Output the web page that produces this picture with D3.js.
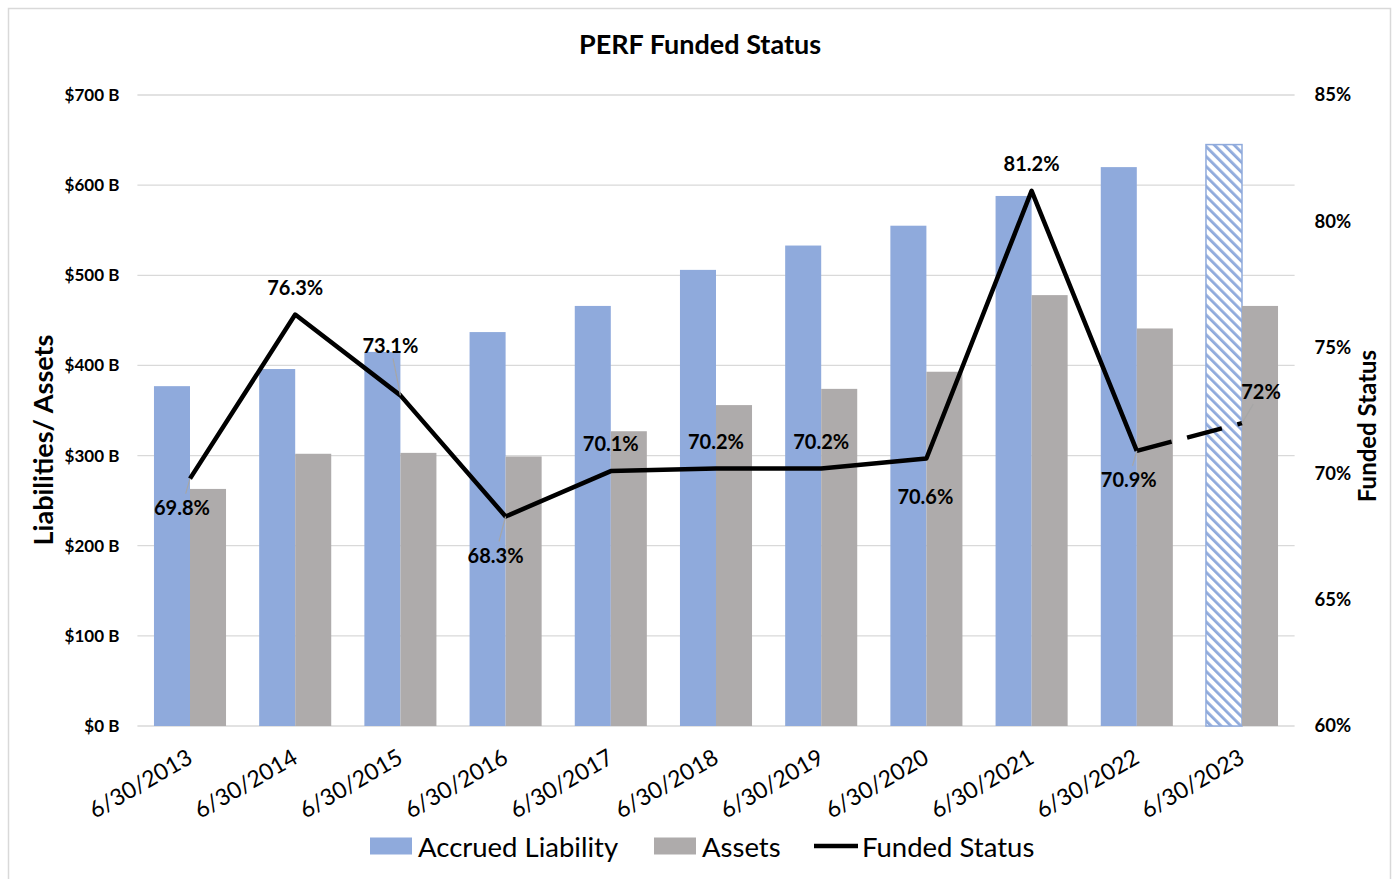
<!DOCTYPE html>
<html><head><meta charset="utf-8">
<script src="https://cdn.jsdelivr.net/npm/d3@7/dist/d3.min.js"></script>
<style>
body{margin:0;background:#fff}
svg text{font-family:Lato,"Noto Sans",sans-serif;fill:#000}
</style>
</head><body>
<svg id="chart" width="1397" height="879"></svg>
<script>
// ---- data ----
const categories = ['6/30/2013','6/30/2014','6/30/2015','6/30/2016','6/30/2017','6/30/2018','6/30/2019','6/30/2020','6/30/2021','6/30/2022','6/30/2023'];
const accruedLiability = [377,396,415,437,466,506,533,555,588,620,645];
const assets = [263,302,303,299,327,356,374,393,478,441,466];
const fundedStatus = [69.8,76.3,73.1,68.3,70.1,70.2,70.2,70.6,81.2,70.9,72.0];
const fundedLabels = ['69.8%','76.3%','73.1%','68.3%','70.1%','70.2%','70.2%','70.6%','81.2%','70.9%','72%'];
const projected = [false,false,false,false,false,false,false,false,false,false,true];
const labelPlacement = ['belowLeftNear','above','aboveLeft','belowLeft','above','above','above','below','above','belowLeftNear','aboveRight'];
const leftTicks = [0,100,200,300,400,500,600,700];
const leftTickLabels = ['$0 B','$100 B','$200 B','$300 B','$400 B','$500 B','$600 B','$700 B'];
const rightTicks = [60,65,70,75,80,85];
const rightTickLabels = ['60%','65%','70%','75%','80%','85%'];
const seriesNames = ['Accrued Liability','Assets','Funded Status'];

// ---- layout ----
const W = 1397, H = 879;
const plot = {left:137.4, right:1294.6, top:95, bottom:726};
const colors = {liab:'#8FAADC', assets:'#AEABAB', line:'#000', grid:'#D9D9D9'};

const svg = d3.select('#chart');
const defs = svg.append('defs');
const pat = defs.append('pattern').attr('id','hatch').attr('patternUnits','userSpaceOnUse')
  .attr('width',7).attr('height',7).attr('patternTransform','rotate(-45)');
pat.append('rect').attr('width',7).attr('height',7).attr('fill','#fff');
pat.append('rect').attr('x',0).attr('y',0).attr('width',2.8).attr('height',7).attr('fill',colors.liab);

svg.append('rect').attr('x',8.5).attr('y',8.5).attr('width',1382).attr('height',875)
  .attr('fill','#fff').attr('stroke','#D9D9D9').attr('stroke-width',1.5);

const x = d3.scaleBand().domain(categories).range([plot.left,plot.right]).paddingInner(0.315).paddingOuter(0.1575);
const xs = d3.scaleBand().domain(['liab','assets']).range([0,x.bandwidth()]);
const yL = d3.scaleLinear().domain([0,700]).range([plot.bottom,plot.top]);
const yR = d3.scaleLinear().domain([60,85]).range([plot.bottom,plot.top]);

// gridlines
svg.append('g').selectAll('line').data(leftTicks).join('line')
  .attr('x1',plot.left).attr('x2',plot.right)
  .attr('y1',d=>yL(d)).attr('y2',d=>yL(d))
  .attr('stroke',colors.grid).attr('stroke-width',1.3);

// left axis
const axL = svg.append('g').attr('transform',`translate(${plot.left},0)`)
  .call(d3.axisLeft(yL).tickValues(leftTicks).tickFormat((d,i)=>leftTickLabels[i]).tickSize(0).tickPadding(18));
axL.select('.domain').remove();
axL.selectAll('text').attr('font-size',17).attr('font-weight',700).attr('font-family','Lato');

// right axis
const axR = svg.append('g').attr('transform',`translate(${plot.right},0)`)
  .call(d3.axisRight(yR).tickValues(rightTicks).tickFormat((d,i)=>rightTickLabels[i]).tickSize(0).tickPadding(20));
axR.select('.domain').remove();
axR.selectAll('text').attr('font-size',18.5).attr('font-weight',700).attr('font-family','Lato');

// bars
const groups = svg.append('g').selectAll('g').data(categories).join('g')
  .attr('transform',d=>`translate(${x(d)},0)`);
groups.append('rect')
  .attr('x',xs('liab')).attr('width',xs.bandwidth())
  .attr('y',(d,i)=>yL(accruedLiability[i])).attr('height',(d,i)=>yL(0)-yL(accruedLiability[i]))
  .attr('fill',(d,i)=>projected[i]?'url(#hatch)':colors.liab)
  .attr('stroke',(d,i)=>projected[i]?colors.liab:'none').attr('stroke-width',1.5);
groups.append('rect')
  .attr('x',xs('assets')).attr('width',xs.bandwidth())
  .attr('y',(d,i)=>yL(assets[i])).attr('height',(d,i)=>yL(0)-yL(assets[i]))
  .attr('fill',colors.assets);

// line
const pts = categories.map((c,i)=>({x:x(c)+x.bandwidth()/2, y:yR(fundedStatus[i]), i}));
const line = d3.line().x(d=>d.x).y(d=>d.y);
const solidPts = pts.filter(p=>!projected[p.i]);
const dashPts = pts.filter((p,k)=>projected[p.i] || (k+1<pts.length && projected[k+1]));
svg.append('path').attr('d',line(solidPts)).attr('fill','none').attr('stroke',colors.line)
  .attr('stroke-width',4.5).attr('stroke-linejoin','round');
svg.append('path').attr('d',line(dashPts)).attr('fill','none').attr('stroke',colors.line)
  .attr('stroke-width',4.5).attr('stroke-dasharray','36,16');

// data labels
const placements = {
  above:{dx:0,dy:-28,leader:false},
  below:{dx:-1,dy:38,leader:false},
  belowLeft:{dx:-10,dy:38,leader:true},
  belowLeftNear:{dx:-8,dy:28,leader:true},
  aboveLeft:{dx:-10,dy:-50,leader:true},
  aboveRight:{dx:19,dy:-32,leader:true}
};
const lbl = svg.append('g');
pts.forEach(p=>{
  const pl = placements[labelPlacement[p.i]];
  const cx = p.x+pl.dx, cy = p.y+pl.dy;
  if(pl.leader){
    const hw = 30, hh = 13;
    const ddx = cx-p.x, ddy = cy-p.y;
    const tx = Math.abs(ddx)>hw ? (Math.abs(ddx)-hw)/Math.abs(ddx) : 0;
    const ty = (Math.abs(ddy)-hh)/Math.abs(ddy);
    const tt = Math.max(tx, ty);
    lbl.append('line').attr('x1',p.x).attr('y1',p.y).attr('x2',p.x+ddx*tt).attr('y2',p.y+ddy*tt)
      .attr('stroke','#A6A6A6').attr('stroke-width',1.2);
  }
  lbl.append('text').attr('x',cx).attr('y',cy).attr('text-anchor','middle').attr('dominant-baseline','central')
    .attr('font-size',20).attr('font-weight',700).text(fundedLabels[p.i]);
});

// x labels
svg.append('g').selectAll('text').data(categories).join('text')
  .attr('transform',d=>`translate(${x(d)+x.bandwidth()/2+4},${plot.bottom+36}) rotate(-30)`)
  .attr('text-anchor','end').attr('font-size',23).text(d=>d);

// title
svg.append('text').attr('x',700).attr('y',54).attr('text-anchor','middle')
  .attr('font-size',27).attr('font-weight',700).text('PERF Funded Status');

// axis titles
svg.append('text').attr('transform','translate(42,440) rotate(-90)').attr('text-anchor','middle')
  .attr('dominant-baseline','central').attr('font-size',27).attr('font-weight',700).text('Liabilities/ Assets');
svg.append('text').attr('transform','translate(1366,426) rotate(-90)').attr('text-anchor','middle')
  .attr('dominant-baseline','central').attr('font-size',24).attr('font-weight',700).text('Funded Status');

// legend
const lg = svg.append('g');
const ly = 846;
lg.append('rect').attr('x',370).attr('y',ly-8.5).attr('width',42).attr('height',17).attr('fill',colors.liab);
lg.append('text').attr('x',418).attr('y',ly).attr('dominant-baseline','central').attr('font-size',27.5).text(seriesNames[0]);
lg.append('rect').attr('x',654).attr('y',ly-8.5).attr('width',42).attr('height',17).attr('fill',colors.assets);
lg.append('text').attr('x',702).attr('y',ly).attr('dominant-baseline','central').attr('font-size',27.5).text(seriesNames[1]);
lg.append('line').attr('x1',814).attr('x2',858).attr('y1',ly).attr('y2',ly).attr('stroke','#000').attr('stroke-width',4.5);
lg.append('text').attr('x',862).attr('y',ly).attr('dominant-baseline','central').attr('font-size',27.5).text(seriesNames[2]);
</script>
</body></html>
